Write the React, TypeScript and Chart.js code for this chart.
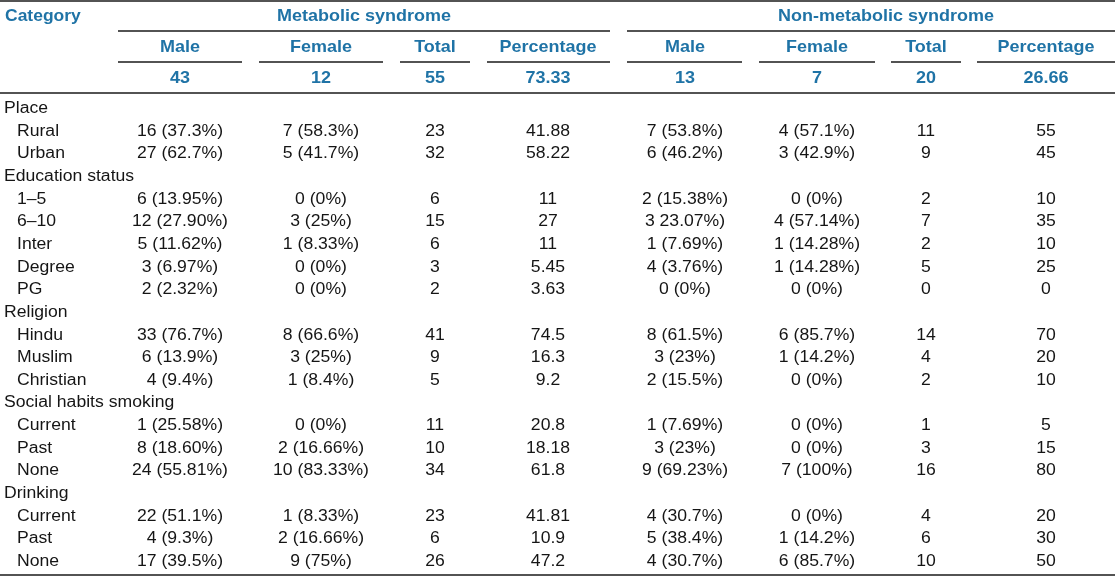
import React, { useEffect, useRef } from "react";
import { Chart, registerables } from "chart.js";

Chart.register(...registerables);

// ---------- data ----------
const groupLabels = ["Place", "Education status", "Religion", "Social habits smoking", "Drinking"];
const subLabels = [
  ["Rural", "Urban"],
  ["1–5", "6–10", "Inter", "Degree", "PG"],
  ["Hindu", "Muslim", "Christian"],
  ["Current", "Past", "None"],
  ["Current", "Past", "None"],
];
const groupHeaders = ["Metabolic syndrome", "Non-metabolic syndrome"];
const subHeaders = ["Male", "Female", "Total", "Percentage"];
const msTotals = ["43", "12", "55", "73.33"];
const nmTotals = ["13", "7", "20", "26.66"];

const msMale = ["16 (37.3%)", "27 (62.7%)", "6 (13.95%)", "12 (27.90%)", "5 (11.62%)", "3 (6.97%)", "2 (2.32%)", "33 (76.7%)", "6 (13.9%)", "4 (9.4%)", "1 (25.58%)", "8 (18.60%)", "24 (55.81%)", "22 (51.1%)", "4 (9.3%)", "17 (39.5%)"];
const msFemale = ["7 (58.3%)", "5 (41.7%)", "0 (0%)", "3 (25%)", "1 (8.33%)", "0 (0%)", "0 (0%)", "8 (66.6%)", "3 (25%)", "1 (8.4%)", "0 (0%)", "2 (16.66%)", "10 (83.33%)", "1 (8.33%)", "2 (16.66%)", "9 (75%)"];
const msTotal = [23, 32, 6, 15, 6, 3, 2, 41, 9, 5, 11, 10, 34, 23, 6, 26];
const msPct = ["41.88", "58.22", "11", "27", "11", "5.45", "3.63", "74.5", "16.3", "9.2", "20.8", "18.18", "61.8", "41.81", "10.9", "47.2"];
const nmMale = ["7 (53.8%)", "6 (46.2%)", "2 (15.38%)", "3 23.07%)", "1 (7.69%)", "4 (3.76%)", "0 (0%)", "8 (61.5%)", "3 (23%)", "2 (15.5%)", "1 (7.69%)", "3 (23%)", "9 (69.23%)", "4 (30.7%)", "5 (38.4%)", "4 (30.7%)"];
const nmFemale = ["4 (57.1%)", "3 (42.9%)", "0 (0%)", "4 (57.14%)", "1 (14.28%)", "1 (14.28%)", "0 (0%)", "6 (85.7%)", "1 (14.2%)", "0 (0%)", "0 (0%)", "0 (0%)", "7 (100%)", "0 (0%)", "1 (14.2%)", "6 (85.7%)"];
const nmTotal = [11, 9, 2, 7, 2, 5, 0, 14, 4, 2, 1, 3, 16, 4, 6, 10];
const nmPct = ["55", "45", "10", "35", "10", "25", "0", "70", "20", "10", "5", "15", "80", "20", "30", "50"];

// ---------- layout ----------
const W = 1115;
const H = 576;
const colCenters = [180, 321, 435, 548, 685, 817, 926, 1046];
const groupCenters = [364, 886];
const subLines = [[118, 242], [259, 383], [400, 470], [487, 610], [627, 742], [759, 875], [891, 961], [977, 1115]];
const groupLines = [[118, 610], [627, 1115]];
const headerBase = [21, 52, 83];
const firstRowBase = 113;
const rowStep = 22.65;
const BLUE = "#1f73a6";
const TEXT = "#151515";
const BODY_FONT = "16px 'Liberation Sans', Arial, sans-serif";
const HEAD_FONT = "bold 16.5px 'Liberation Sans', Arial, sans-serif";

type Cell = { x: number; y: number; t: string };

function buildDatasets() {
  const sets: any[] = [];
  const mk = (cells: Cell[], font: string, color: string, align: string, sx: number) => ({
    data: cells.map((c) => ({ x: c.x, y: c.y })),
    texts: cells.map((c) => c.t),
    font, color, align, sx,
    pointRadius: 0, pointHoverRadius: 0, showLine: false,
  });
  const head: Cell[] = [];
  const headLeft: Cell[] = [{ x: 5, y: headerBase[0], t: "Category" }];
  groupHeaders.forEach((g, i) => head.push({ x: groupCenters[i], y: headerBase[0], t: g }));
  [...subHeaders, ...subHeaders].forEach((s, i) => head.push({ x: colCenters[i], y: headerBase[1], t: s }));
  [...msTotals, ...nmTotals].forEach((s, i) => head.push({ x: colCenters[i], y: headerBase[2], t: s }));
  sets.push(mk(headLeft, HEAD_FONT, BLUE, "left", 1.06));
  sets.push(mk(head, HEAD_FONT, BLUE, "center", 1.09));

  const labelCells: Cell[] = [];
  const valueCols = [msMale, msFemale, msTotal.map(String), msPct, nmMale, nmFemale, nmTotal.map(String), nmPct];
  const valueCells: Cell[] = [];
  let row = 0;
  let sub = 0;
  groupLabels.forEach((g, gi) => {
    labelCells.push({ x: 4, y: firstRowBase + rowStep * row, t: g });
    row++;
    subLabels[gi].forEach((s) => {
      const y = firstRowBase + rowStep * row;
      labelCells.push({ x: 17, y, t: s });
      valueCols.forEach((col, ci) => valueCells.push({ x: colCenters[ci], y, t: col[sub] }));
      row++;
      sub++;
    });
  });
  sets.push(mk(labelCells, BODY_FONT, TEXT, "left", 1.1));
  sets.push(mk(valueCells, BODY_FONT, TEXT, "center", 1.1));
  return sets;
}

const tablePlugin = {
  id: "tableText",
  afterDatasetsDraw(chart: any) {
    const ctx = chart.ctx;
    const xs = chart.scales.x;
    const ys = chart.scales.y;
    ctx.save();
    ctx.strokeStyle = "#1a1a1a";
    ctx.lineWidth = 1.5;
    const hline = (x1: number, x2: number, y: number) => {
      ctx.beginPath();
      ctx.moveTo(xs.getPixelForValue(x1), ys.getPixelForValue(y));
      ctx.lineTo(xs.getPixelForValue(x2), ys.getPixelForValue(y));
      ctx.stroke();
    };
    hline(0, W, 1);
    groupLines.forEach(([a, b]) => hline(a, b, 31));
    subLines.forEach(([a, b]) => hline(a, b, 62));
    hline(0, W, 93);
    hline(0, W, 575);
    chart.data.datasets.forEach((ds: any, di: number) => {
      const meta = chart.getDatasetMeta(di);
      ctx.font = ds.font;
      ctx.fillStyle = ds.color;
      ctx.textAlign = ds.align;
      ctx.textBaseline = "alphabetic";
      meta.data.forEach((el: any, i: number) => {
        ctx.save();
        ctx.translate(el.x, el.y);
        ctx.scale(ds.sx, 1);
        ctx.fillText(ds.texts[i], 0, 0);
        ctx.restore();
      });
    });
    ctx.restore();
  },
};

export default function App() {
  const ref = useRef<HTMLCanvasElement | null>(null);
  useEffect(() => {
    document.body.style.margin = "0";
    document.body.style.background = "#ffffff";
    if (!ref.current) return;
    const chart = new Chart(ref.current, {
      type: "scatter",
      data: { datasets: buildDatasets() },
      options: {
        animation: false,
        responsive: true,
        maintainAspectRatio: false,
        layout: { padding: 0 },
        events: [],
        plugins: { legend: { display: false }, tooltip: { enabled: false } },
        scales: {
          x: { type: "linear", min: 0, max: W, display: false },
          y: { type: "linear", min: 0, max: H, reverse: true, display: false },
        },
      },
      plugins: [tablePlugin],
    } as any);
    return () => chart.destroy();
  }, []);
  return (
    <div style={{ position: "relative", width: W, height: H, background: "#fff" }}>
      <canvas ref={ref} />
    </div>
  );
}
